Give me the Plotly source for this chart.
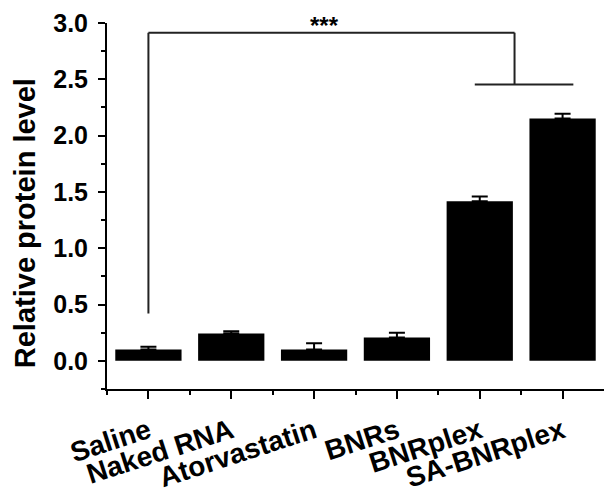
import plotly.graph_objects as go

categories = ["Saline", "Naked RNA", "Atorvastatin", "BNRs", "BNRplex", "SA-BNRplex"]
means = [0.10, 0.243, 0.10, 0.207, 1.417, 2.151]
errors = [0.025, 0.02, 0.057, 0.042, 0.042, 0.044]

y_ticks = [0.0, 0.5, 1.0, 1.5, 2.0, 2.5, 3.0]

# significance bracket (data units)
sig_text = "***"
sig_left_idx = 0
sig_left_bottom = 0.42
sig_top = 2.914
sig_group = [4, 5]
sig_group_y = 2.453

FONT = "Liberation Sans, Arial, sans-serif"
xs = list(range(len(categories)))

fig = go.Figure()
fig.add_trace(go.Bar(
    x=xs, y=means,
    marker=dict(color="black", line=dict(width=0)),
    error_y=dict(type="data", symmetric=False, array=errors,
                 arrayminus=[0] * len(errors), color="black",
                 thickness=2, width=8),
    width=0.8,
))

line_style = dict(color="#222222", width=2)
group_mid = (sig_group[0] + sig_group[1]) / 2 - 0.08
# left vertical
fig.add_shape(type="line", xref="x", yref="y", x0=sig_left_idx, x1=sig_left_idx,
              y0=sig_left_bottom, y1=sig_top, line=line_style)
# top horizontal
fig.add_shape(type="line", xref="x", yref="y", x0=sig_left_idx, x1=group_mid,
              y0=sig_top, y1=sig_top, line=line_style)
# right vertical
fig.add_shape(type="line", xref="x", yref="y", x0=group_mid, x1=group_mid,
              y0=sig_group_y, y1=sig_top, line=line_style)
# group horizontal
fig.add_shape(type="line", xref="x", yref="y", x0=sig_group[0] - 0.06, x1=sig_group[1] + 0.13,
              y0=sig_group_y, y1=sig_group_y, line=line_style)

fig.add_annotation(x=2.12, y=2.98, xref="x", yref="y", text="<b>" + sig_text + "</b>",
                   showarrow=False, yanchor="middle",
                   font=dict(family=FONT, size=24, color="black"))

fig.add_annotation(x=0, y=0.453, xref="paper", yref="paper", xshift=-82, xanchor="center",
                   text="<b>Relative protein level</b>", textangle=-90,
                   showarrow=False, font=dict(family=FONT, size=29, color="black"))

fig.update_layout(
    width=604, height=495,
    margin=dict(l=107, r=0, t=23, b=106),
    paper_bgcolor="white", plot_bgcolor="white",
    showlegend=False,
    font=dict(family=FONT, color="black"),
    bargap=0.2,
)
fig.update_xaxes(
    range=[-0.5, 5.5],
    tickmode="array", tickvals=xs, ticktext=["<b>" + c + "</b>" for c in categories],
    tickangle=-18,
    tickfont=dict(family=FONT, size=28, color="black"),
    ticklabelstandoff=5,
    showline=True, linewidth=2, linecolor="black",
    ticks="outside", ticklen=8, tickwidth=2, tickcolor="black",
    minor=dict(tickvals=[i - 0.5 for i in xs], ticks="outside", ticklen=4,
               tickwidth=2, tickcolor="black"),
    showgrid=False, zeroline=False, automargin=False,
)
fig.update_yaxes(
    range=[-0.25, 3.0],
    tickmode="array", tickvals=y_ticks, ticktext=["<b>%.1f</b>" % v for v in y_ticks],
    tickfont=dict(family=FONT, size=25, color="black"),
    ticklabelstandoff=5,
    showline=True, linewidth=2, linecolor="black",
    ticks="outside", ticklen=7, tickwidth=2, tickcolor="black",
    minor=dict(tickvals=[-0.25, 0.25, 0.75, 1.25, 1.75, 2.25, 2.75], ticks="outside",
               ticklen=4, tickwidth=2, tickcolor="black"),
    showgrid=False, zeroline=False, automargin=False,
)

fig.write_html("out.html", config={"displayModeBar": False},
               post_script="document.body.style.margin='0';document.body.style.overflow='hidden';")
